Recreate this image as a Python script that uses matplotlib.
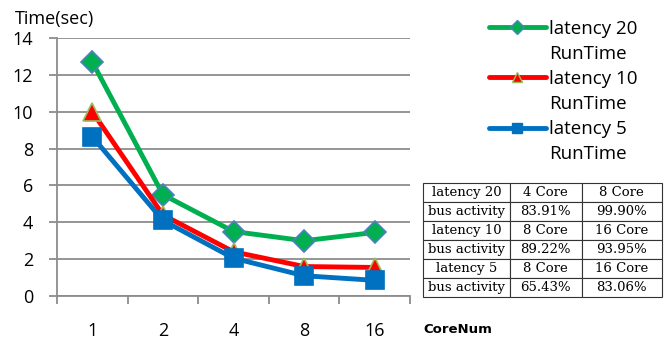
import matplotlib
matplotlib.use("Agg")
import matplotlib.pyplot as plt
from matplotlib.lines import Line2D

cores = ["1", "2", "4", "8", "16"]
lat20 = [12.7, 5.5, 3.5, 3.0, 3.45]
lat10 = [10.0, 4.4, 2.4, 1.6, 1.55]
lat5 = [8.65, 4.1, 2.05, 1.1, 0.85]
series_names = ["latency 20", "latency 10", "latency 5"]

table_rows = [
    ["latency 20", "4 Core", "8 Core"],
    ["bus activity", "83.91%", "99.90%"],
    ["latency 10", "8 Core", "16 Core"],
    ["bus activity", "89.22%", "93.95%"],
    ["latency 5", "8 Core", "16 Core"],
    ["bus activity", "65.43%", "83.06%"],
]

plt.rcParams["font.family"] = ["Open Sans", "DejaVu Sans"]

fig = plt.figure(figsize=(6.65, 3.39), dpi=100)
ax = fig.add_axes([0.0857, 0.1268, 0.531, 0.761])

styles = [
    dict(color="#00B050", marker="D", mfc="#00B050", mec="#4F81BD"),
    dict(color="#FF0000", marker="^", mfc="#FF0000", mec="#9BBB59"),
    dict(color="#0070C0", marker="s", mfc="#0070C0", mec="#0070C0"),
]
sizes = [11, 13, 13]

x = list(range(len(cores)))
for i, ys in enumerate([lat20, lat10, lat5]):
    ax.plot(x, ys, lw=3.5, ms=sizes[i], mew=1.2, zorder=3 + i, **styles[i])

ax.set_xlim(-0.5, 4.5)
ax.set_ylim(0, 14)
ax.set_yticks(range(0, 15, 2))
ax.yaxis.grid(True, color="#8c8c8c", lw=1.3)
ax.set_axisbelow(True)
for s in ["top", "right"]:
    ax.spines[s].set_visible(False)
for s in ["left", "bottom"]:
    ax.spines[s].set_color("#8c8c8c")
    ax.spines[s].set_linewidth(1.3)

ax.set_xticks(x)
ax.set_xticklabels(cores)
ax.set_xticks([i - 0.5 for i in range(len(cores) + 1)], minor=True)
ax.tick_params(axis="x", which="major", length=0, pad=19, labelsize=13)
ax.tick_params(axis="x", which="minor", length=6, width=1.3, color="#8c8c8c")
ax.tick_params(axis="y", length=6, width=1.3, color="#8c8c8c", pad=11, labelsize=13)

fig.text(0.022, 0.945, "Time(sec)", fontsize=13, va="center", ha="left")
fig.text(0.688, 0.027, "CoreNum", fontsize=9.5, va="center", ha="center",
         fontweight="bold", family=["DejaVu Sans"])

# legend: each series takes two lines, handle next to the first one
handles, labels = [], []
blank = Line2D([], [], color="none")
for i, name in enumerate(series_names):
    handles.append(Line2D([], [], lw=3.5, ms=7, mew=1.0, solid_capstyle="round",
                          **styles[i]))
    labels.append(name)
    handles.append(blank)
    labels.append("RunTime")
fig.legend(handles, labels, loc="upper left", bbox_to_anchor=(0.7245, 0.964),
           frameon=False, fontsize=13.5, handlelength=3.0, handletextpad=0.2,
           labelspacing=0.38, borderaxespad=0)

tab = fig.add_axes([0.636, 0.124, 0.359, 0.336])
tab.axis("off")
t = tab.table(cellText=table_rows, colWidths=[87, 72, 80], bbox=[0, 0, 1, 1],
              cellLoc="center")
t.auto_set_font_size(False)
for (r, c), cell in t.get_celld().items():
    cell.set_fontsize(9.5)
    cell.set_linewidth(0.8)
    cell.set_edgecolor("#333333")
    cell.get_text().set_fontfamily(["DejaVu Serif"])

fig.savefig("out.png", dpi=100)
